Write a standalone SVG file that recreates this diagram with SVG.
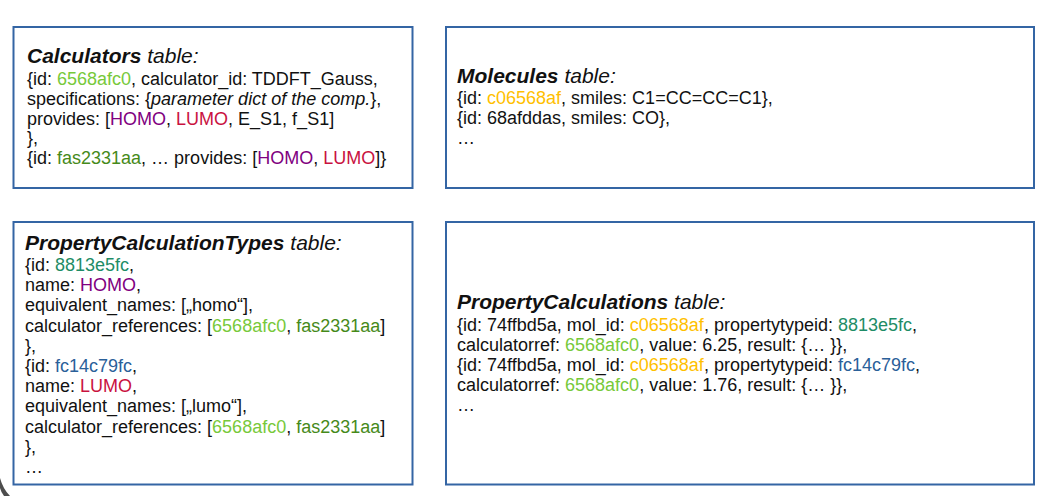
<svg xmlns="http://www.w3.org/2000/svg" width="1056" height="496" viewBox="0 0 1056 496">
<style>
.box{fill:#ffffff;stroke:#3465a4;stroke-width:2}
text{font-family:"Liberation Sans",Arial,sans-serif;font-size:18px;fill:#111111}
.title{font-size:21px;font-style:italic}
.b{font-weight:bold}
.i{font-style:italic}
.lg{fill:#77c93a}
.dg{fill:#468a1a}
.pu{fill:#800080}
.rd{fill:#c9123f}
.tl{fill:#1e8c66}
.bl{fill:#2a6099}
.or{fill:#ffbf00}
</style>
<rect width="1056" height="496" fill="#ffffff"/>
<path d="M0,478 Q3,489 10,496 L4,496 Q1,492 0,488 Z" fill="#4d4d4d"/>
<g id="calculators">
<rect class="box" x="13.5" y="27" width="399" height="161"/>
<text class="title" x="27" y="63"><tspan class="b">Calculators</tspan> table:</text>
<text x="27" y="85">{id: <tspan class="lg">6568afc0</tspan>, calculator_id: TDDFT_Gauss,</text>
<text x="27" y="104.8">specifications: {<tspan class="i">parameter dict of the comp.</tspan>},</text>
<text x="27" y="124.6">provides: [<tspan class="pu">HOMO</tspan>, <tspan class="rd">LUMO</tspan>, E_S1, f_S1]</text>
<text x="27" y="144.4">},</text>
<text x="27" y="164.2">{id: <tspan class="dg">fas2331aa</tspan>, … provides: [<tspan class="pu">HOMO</tspan>, <tspan class="rd">LUMO</tspan>]}</text>
</g>
<g id="molecules">
<rect class="box" x="446" y="27" width="588" height="161"/>
<text class="title" x="457" y="83"><tspan class="b">Molecules</tspan> table:</text>
<text x="457" y="104">{id: <tspan class="or">c06568af</tspan>, smiles: C1=CC=CC=C1},</text>
<text x="457" y="124">{id: 68afddas, smiles: CO},</text>
<text x="457" y="144">…</text>
</g>
<g id="propertycalculationtypes">
<rect class="box" x="13.5" y="222" width="399" height="262.5"/>
<text class="title" x="25" y="250"><tspan class="b">PropertyCalculationTypes</tspan> table:</text>
<text x="25" y="271">{id: <tspan class="tl">8813e5fc</tspan>,</text>
<text x="25" y="291.2">name: <tspan class="pu">HOMO</tspan>,</text>
<text x="25" y="311.4">equivalent_names: [„homo“],</text>
<text x="25" y="331.6">calculator_references: [<tspan class="lg">6568afc0</tspan>, <tspan class="dg">fas2331aa</tspan>]</text>
<text x="25" y="351.8">},</text>
<text x="25" y="372">{id: <tspan class="bl">fc14c79fc</tspan>,</text>
<text x="25" y="392.2">name: <tspan class="rd">LUMO</tspan>,</text>
<text x="25" y="412.4">equivalent_names: [„lumo“],</text>
<text x="25" y="432.6">calculator_references: [<tspan class="lg">6568afc0</tspan>, <tspan class="dg">fas2331aa</tspan>]</text>
<text x="25" y="452.8">},</text>
<text x="25" y="473">…</text>
</g>
<g id="propertycalculations">
<rect class="box" x="446" y="222" width="588" height="262.5"/>
<text class="title" x="457" y="309"><tspan class="b">PropertyCalculations</tspan> table:</text>
<text x="457" y="331">{id: 74ffbd5a, mol_id: <tspan class="or">c06568af</tspan>, propertytypeid: <tspan class="tl">8813e5fc</tspan>,</text>
<text x="457" y="351">calculatorref: <tspan class="lg">6568afc0</tspan>, value: 6.25, result: {… }},</text>
<text x="457" y="371">{id: 74ffbd5a, mol_id: <tspan class="or">c06568af</tspan>, propertytypeid: <tspan class="bl">fc14c79fc</tspan>,</text>
<text x="457" y="391">calculatorref: <tspan class="lg">6568afc0</tspan>, value: 1.76, result: {… }},</text>
<text x="457" y="411">…</text>
</g>
<g id="connectors"></g>
</svg>
